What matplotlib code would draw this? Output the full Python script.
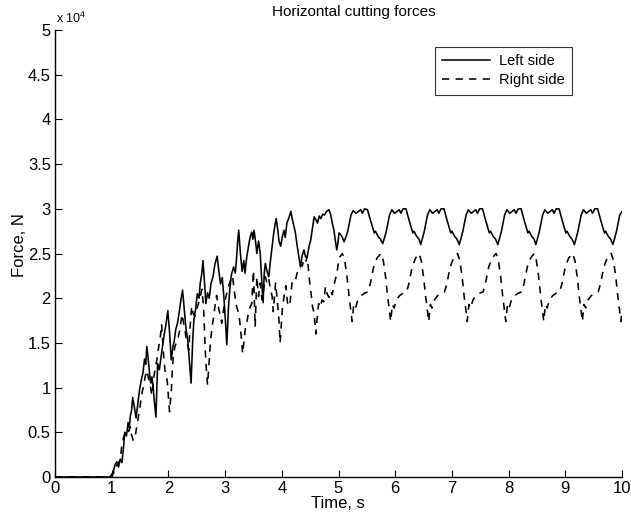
import matplotlib
matplotlib.use("Agg")
import matplotlib.pyplot as plt
import numpy as np

# ---------------- data ----------------
left_ramp_t = [0.00, 0.97, 1.00, 1.03, 1.06, 1.09, 1.12, 1.15, 1.18, 1.21, 1.23, 1.26, 1.29, 1.31, 1.33,
               1.35, 1.37, 1.40, 1.43, 1.46, 1.49, 1.52, 1.55, 1.58, 1.60, 1.62, 1.65, 1.67, 1.69, 1.71,
               1.73, 1.75, 1.78, 1.80, 1.81, 1.84, 1.87, 1.90, 1.93, 1.96, 1.99, 2.02, 2.05, 2.08, 2.10,
               2.13, 2.16, 2.19, 2.22, 2.25, 2.28, 2.31, 2.34, 2.37, 2.40, 2.43, 2.45, 2.48, 2.51, 2.54,
               2.56, 2.59, 2.61, 2.64, 2.66, 2.69, 2.72, 2.75, 2.79, 2.82, 2.86, 2.89, 2.92, 2.95, 2.98,
               3.01, 3.03, 3.06, 3.08, 3.11, 3.15, 3.18, 3.20, 3.22, 3.24, 3.27, 3.30, 3.33, 3.35, 3.38,
               3.41, 3.44, 3.47, 3.49, 3.51, 3.54, 3.56, 3.59, 3.62, 3.64, 3.67, 3.69, 3.71, 3.74, 3.77,
               3.80, 3.83, 3.86, 3.90, 3.93, 3.95, 3.98, 4.01, 4.04, 4.06, 4.09, 4.12, 4.16, 4.19, 4.22,
               4.24, 4.27, 4.30, 4.33, 4.36, 4.39, 4.42, 4.45, 4.48, 4.51, 4.54, 4.57, 4.60, 4.63, 4.66,
               4.69, 4.72, 4.75, 4.79, 4.83, 4.86, 4.89, 4.92, 4.94, 4.97, 4.99, 5.01, 5.04, 5.06]
left_ramp_f = [0, 0, 300, 600, 1400, 1700, 1100, 2000, 1600, 3400, 5000, 4600, 6100, 5500, 6900,
               7400, 8900, 7800, 6600, 8200, 9700, 10800, 11600, 13200, 12600, 14600, 12800, 11400, 10500, 11200,
               10200, 8600, 6700, 10800, 12700, 12000, 13400, 14800, 16100, 17200, 18600, 16200, 13100, 14600, 15100,
               16500, 17200, 18400, 19800, 20900, 18700, 16600, 15400, 13000, 10500, 15500, 17600, 18800, 20500, 20000,
               21600, 22800, 24200, 21500, 19400, 20600, 20000, 21600, 22500, 23800, 24700, 23000, 21600, 22300, 20000,
               17000, 14800, 19000, 20800, 22600, 23500, 22800, 24300, 26200, 27600, 25000, 23000, 24200, 22800, 24500,
               25700, 26800, 27400, 26600, 27600, 26200, 25000, 26400, 25000, 22600, 19500, 22800, 23900, 23000, 22400,
               24200, 25800, 27400, 28900, 27600, 26400, 25800, 26900, 27600, 26800, 28400, 28900, 29700, 28700, 27900,
               27300, 25900, 24700, 23500, 24800, 25400, 24600, 24700, 25800, 26500, 27800, 29100, 28800, 28400, 29200,
               28900, 29400, 29300, 29700, 29900, 29400, 28400, 27600, 26600, 25400, 26200, 27300, 27100, 26900]

left_steady_t = [5.10, 5.16, 5.22, 5.26, 5.31, 5.35, 5.39, 5.42, 5.46, 5.51, 5.57, 5.63, 5.65, 5.70, 5.74,
                 5.78, 5.84, 5.90, 5.94, 5.99, 6.03, 6.07, 6.10, 6.14, 6.19, 6.25, 6.31, 6.33, 6.38, 6.42,
                 6.45, 6.51, 6.57, 6.61, 6.66, 6.70, 6.74, 6.77, 6.81, 6.86, 6.92, 6.98, 7.00, 7.05, 7.09,
                 7.13, 7.19, 7.25, 7.29, 7.34, 7.38, 7.42, 7.45, 7.49, 7.54, 7.60, 7.66, 7.68, 7.73, 7.77,
                 7.81, 7.87, 7.93, 7.97, 8.02, 8.06, 8.10, 8.13, 8.17, 8.22, 8.28, 8.34, 8.36, 8.41, 8.45,
                 8.48, 8.54, 8.60, 8.64, 8.69, 8.73, 8.77, 8.80, 8.84, 8.89, 8.95, 9.01, 9.03, 9.08, 9.12,
                 9.16, 9.22, 9.28, 9.32, 9.37, 9.41, 9.45, 9.48, 9.52, 9.57, 9.63, 9.69, 9.71, 9.76, 9.80,
                 9.84, 9.90, 9.96, 10.00]
left_steady_f = [26300, 27400, 29300, 29800, 29500, 29700, 29900, 29500, 30000, 29900, 28600, 27300, 27500, 26900, 26600,
                 26100, 27400, 29300, 29900, 29500, 29700, 29900, 29500, 30000, 30000, 28600, 27300, 27500, 26900, 26600,
                 26000, 27400, 29300, 29900, 29500, 29700, 29900, 29500, 30000, 30000, 28600, 27300, 27500, 26900, 26600,
                 26000, 27400, 29300, 29900, 29500, 29700, 29900, 29500, 30000, 30000, 28600, 27300, 27500, 26900, 26600,
                 26000, 27400, 29300, 29900, 29500, 29700, 29900, 29500, 30000, 30000, 28600, 27300, 27500, 26900, 26600,
                 26000, 27400, 29300, 29900, 29500, 29700, 29900, 29500, 30000, 30000, 28600, 27300, 27500, 26900, 26600,
                 26000, 27400, 29300, 29900, 29500, 29700, 29900, 29500, 30000, 30000, 28600, 27300, 27500, 26900, 26600,
                 26000, 27400, 29300, 29700]

right_ramp_t = [0.00, 0.98, 1.01, 1.04, 1.07, 1.10, 1.14, 1.16, 1.18, 1.21, 1.24, 1.27, 1.30, 1.33, 1.35,
                1.38, 1.41, 1.44, 1.47, 1.50, 1.52, 1.54, 1.56, 1.59, 1.62, 1.65, 1.67, 1.69, 1.71, 1.74,
                1.77, 1.80, 1.83, 1.86, 1.88, 1.91, 1.94, 1.96, 1.98, 2.00, 2.02, 2.05, 2.07, 2.09, 2.12,
                2.16, 2.20, 2.24, 2.27, 2.29, 2.31, 2.33, 2.36, 2.38, 2.41, 2.44, 2.47, 2.50, 2.53, 2.56,
                2.59, 2.62, 2.65, 2.67, 2.69, 2.72, 2.74, 2.77, 2.80, 2.83, 2.85, 2.89, 2.92, 2.94, 2.97,
                3.00, 3.03, 3.06, 3.09, 3.13, 3.16, 3.19, 3.22, 3.25, 3.28, 3.31, 3.34, 3.36, 3.39, 3.41,
                3.44, 3.47, 3.50, 3.53, 3.56, 3.59, 3.62, 3.65, 3.68, 3.71, 3.74, 3.77, 3.80, 3.83, 3.85,
                3.89, 3.92, 3.95, 3.97, 4.01, 4.04, 4.07, 4.10, 4.14, 4.18, 4.21, 4.24, 4.27, 4.30, 4.33,
                4.36, 4.39, 4.42, 4.45, 4.48, 4.51, 4.54, 4.57, 4.60, 4.62, 4.65, 4.68, 4.71, 4.74, 4.77,
                4.80, 4.83, 4.86, 4.89, 4.92, 4.97, 5.01]
right_ramp_f = [0, 0, 200, 500, 1100, 1400, 1800, 2500, 3600, 4400, 5000, 5400, 5100, 5600, 4700,
                4100, 4300, 5600, 6700, 7900, 8800, 9600, 10100, 11200, 11900, 11000, 10800, 9800, 9100, 11000,
                12300, 13200, 14600, 15800, 17100, 14000, 11900, 11400, 10700, 9000, 7300, 9500, 12000, 13800, 14700,
                15300, 16400, 18200, 17200, 16500, 15600, 15000, 14200, 16500, 19100, 18200, 18000, 18800, 19400, 20100,
                21000, 19100, 14200, 12000, 10300, 13000, 15000, 16800, 18000, 19600, 20300, 18700, 18000, 17200, 18600,
                19700, 20600, 21300, 21900, 22500, 21000, 19400, 18700, 17900, 16000, 13800, 15600, 16800, 17500, 18300,
                19000, 19400, 23100, 16800, 22400, 20200, 21700, 19800, 21000, 22400, 21600, 22100, 21000, 20200, 18500,
                21700, 19800, 17600, 15000, 18800, 20200, 21400, 19500, 19100, 21700, 22100, 22000, 22800, 23200, 23700,
                23600, 24300, 24000, 24700, 22400, 20900, 19100, 18300, 16000, 17500, 19400, 19000, 19800, 19600, 21300,
                20500, 20100, 20800, 20400, 21500, 22700, 24500]

right_steady_t = [5.07, 5.11, 5.15, 5.19, 5.22, 5.24, 5.27, 5.30, 5.34, 5.40, 5.47, 5.52, 5.56, 5.62, 5.68,
                  5.75, 5.79, 5.83, 5.87, 5.90, 5.92, 5.95, 5.98, 6.02, 6.08, 6.15, 6.20, 6.24, 6.30, 6.36,
                  6.42, 6.46, 6.50, 6.54, 6.57, 6.59, 6.62, 6.65, 6.69, 6.75, 6.82, 6.87, 6.91, 6.97, 7.03,
                  7.10, 7.14, 7.18, 7.22, 7.25, 7.27, 7.30, 7.33, 7.37, 7.43, 7.50, 7.55, 7.59, 7.65, 7.71,
                  7.78, 7.82, 7.86, 7.90, 7.93, 7.95, 7.98, 8.01, 8.05, 8.11, 8.18, 8.23, 8.27, 8.33, 8.39,
                  8.45, 8.49, 8.53, 8.57, 8.60, 8.62, 8.65, 8.68, 8.72, 8.78, 8.85, 8.90, 8.94, 9.00, 9.06,
                  9.13, 9.17, 9.21, 9.25, 9.28, 9.30, 9.33, 9.36, 9.40, 9.46, 9.53, 9.58, 9.62, 9.68, 9.74,
                  9.81, 9.85, 9.89, 9.93, 9.96, 9.98, 10.00]
right_steady_f = [25000, 24200, 22400, 20000, 18500, 17400, 19300, 18900, 19800, 20300, 20600, 20700, 21600, 23500, 24500,
                  25000, 24200, 22400, 20000, 18500, 17400, 19300, 18900, 19800, 20300, 20600, 20700, 21600, 23500, 24500,
                  25000, 24200, 22400, 20000, 18500, 17400, 19300, 18900, 19800, 20300, 20600, 20700, 21600, 23500, 24500,
                  25000, 24200, 22400, 20000, 18500, 17400, 19300, 18900, 19800, 20300, 20600, 20700, 21600, 23500, 24500,
                  25000, 24200, 22400, 20000, 18500, 17400, 19300, 18900, 19800, 20300, 20600, 20700, 21600, 23500, 24500,
                  25000, 24200, 22400, 20000, 18500, 17400, 19300, 18900, 19800, 20300, 20600, 20700, 21600, 23500, 24500,
                  25000, 24200, 22400, 20000, 18500, 17400, 19300, 18900, 19800, 20300, 20600, 20700, 21600, 23500, 24500,
                  25000, 24200, 22400, 20000, 18500, 17400, 18800]

x_ticks = [0, 1, 2, 3, 4, 5, 6, 7, 8, 9, 10]
y_ticks = [0, 5000, 10000, 15000, 20000, 25000, 30000, 35000, 40000, 45000, 50000]
y_tick_labels = ["0", "0.5", "1", "1.5", "2", "2.5", "3", "3.5", "4", "4.5", "5"]

# ---------------- figure ----------------
plt.rcParams['font.family'] = ['Liberation Sans', 'DejaVu Sans']
plt.rcParams['mathtext.default'] = 'regular'

W, H = 631, 517
fig = plt.figure(figsize=(W / 100, H / 100), dpi=100)
ax = fig.add_axes([55 / W, 40 / H, 567 / W, 447 / H])

left_t = left_ramp_t + left_steady_t
left_f = left_ramp_f + left_steady_f
right_t = right_ramp_t + right_steady_t
right_f = right_ramp_f + right_steady_f

ax.plot(left_t, left_f, color='black', lw=1.15, label='Left side')
ax.plot(right_t, right_f, color='black', lw=1.15, linestyle=(0, (4.5, 4)), label='Right side')

ax.set_xlim(0, 10)
ax.set_ylim(0, 50000)
ax.set_xticks(x_ticks)
ax.set_xticklabels([str(v) for v in x_ticks])
ax.set_yticks(y_ticks)
ax.set_yticklabels(y_tick_labels)
ax.tick_params(direction='in', length=5, width=0.8, labelsize=12, pad=3)
for s in ['top', 'right']:
    ax.spines[s].set_visible(False)
for s in ['left', 'bottom']:
    ax.spines[s].set_linewidth(1.0)

fig.text(338 / W, 1 - 503 / H, 'Time, s', ha='center', va='center', fontsize=12)
fig.text(19 / W, 1 - 245 / H, 'Force, N', ha='center', va='center', rotation=90, fontsize=12)
fig.text(354 / W, 1 - 12 / H, 'Horizontal cutting forces', ha='center', va='center', fontsize=11)
fig.text(56 / W, 1 - 18 / H, r'x 10$^{4}$', ha='left', va='center', fontsize=9)

leg = ax.legend(loc='upper right', bbox_to_anchor=((572 - 55) / 567, (477 - 47) / 447),
                fontsize=10.5, frameon=True, fancybox=False, shadow=False,
                handlelength=3.3, handletextpad=0.6, borderpad=0.5, labelspacing=0.35,
                borderaxespad=0.0)
leg.get_frame().set_edgecolor('black')
leg.get_frame().set_linewidth(0.8)

fig.savefig('out.png', dpi=100)
